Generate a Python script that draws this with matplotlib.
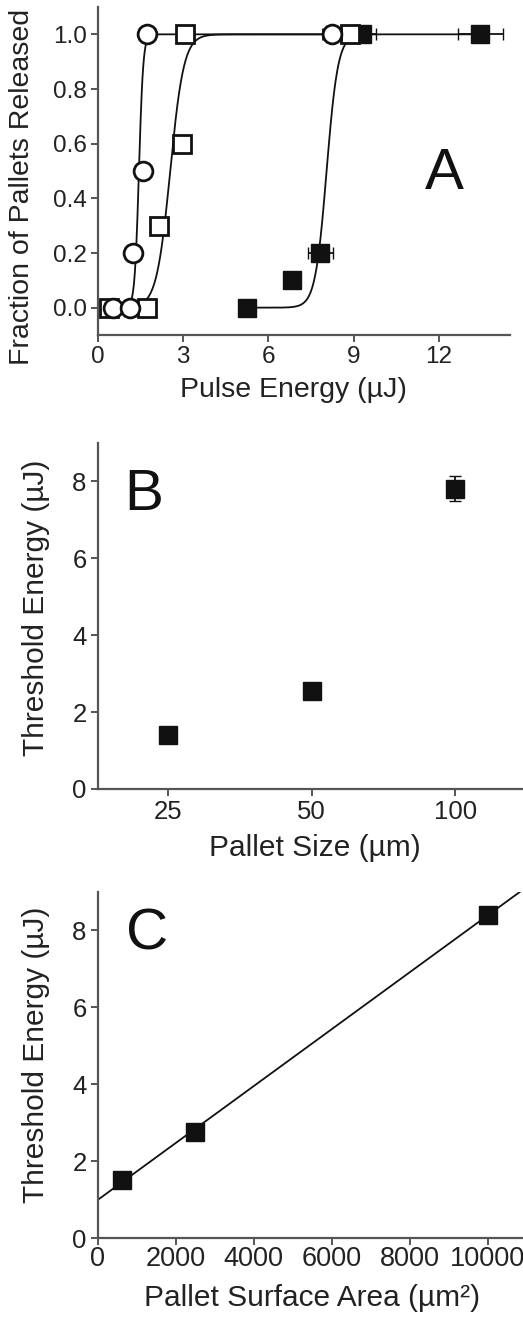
#레이저 펄스 에너지와 팔레트 방출 그래프 (A, B, C)
import numpy as np
import matplotlib
matplotlib.use("Agg")
import matplotlib.pyplot as plt

plt.rcParams['font.family'] = ['Liberation Sans', 'DejaVu Sans']

# A: 펄스 에너지 vs 방출 비율
circ_x = [0.55, 1.14, 1.25, 1.6, 1.74, 8.24]
circ_y = [0.0, 0.0, 0.2, 0.5, 1.0, 1.0]
circ_xerr = [0, 0, 0, 0, 0, 0.32]
osq_x = [0.4, 1.72, 2.17, 2.97, 3.07, 8.88]
osq_y = [0.0, 0.0, 0.3, 0.6, 1.0, 1.0]
fsq_x = [5.25, 6.85, 7.83, 9.3, 13.46]
fsq_y = [0.0, 0.1, 0.2, 1.0, 1.0]
fsq_xerr = [0, 0, 0.45, 0.5, 0.8]
# 시그모이드 피팅 파라미터 (중심, 폭)
circ_fit = (1.45, 0.075)
osq_fit = (2.55, 0.24)
fsq_fit = (8.05, 0.2)

# B: 팔레트 크기 vs 임계 에너지
size_labels = ["25", "50", "100"]
size_thr = [1.40, 2.55, 7.81]
size_err = [0.08, 0.1, 0.33]

# C: 표면적 vs 임계 에너지
area = [625, 2500, 10000]
area_thr = [1.51, 2.77, 8.41]

ink = "#111111"
txt = "#222222"
spine_c = "#555555"

def style(ax, tfs):
    for s in ["top", "right"]:
        ax.spines[s].set_visible(False)
    for s in ["left", "bottom"]:
        ax.spines[s].set_color(spine_c)
        ax.spines[s].set_linewidth(1.6)
    ax.tick_params(direction="out", length=5, width=1.4, color=spine_c,
                   labelsize=tfs, labelcolor=txt, pad=3)

def sig(x, p):
    return 1.0 / (1.0 + np.exp(-(x - p[0]) / p[1]))

fig = plt.figure(figsize=(5.23, 13.23), dpi=100)
W, H = 523.0, 1323.0

# ---- A ----
axA = fig.add_axes([97.7/W, 1-335/H, (510-97.7)/W, (335-7)/H])
style(axA, 17.5)
for xs, p in [(circ_x, circ_fit), (osq_x, osq_fit), (fsq_x, fsq_fit)]:
    xx = np.linspace(min(xs), max(xs), 600)
    axA.plot(xx, sig(xx, p), color=ink, lw=1.3, zorder=1)
axA.errorbar(fsq_x, fsq_y, xerr=fsq_xerr, fmt="s", color=ink, ms=12.5,
             mfc=ink, mec=ink, ecolor=ink, elinewidth=1.3, capsize=4, zorder=3)
axA.errorbar(osq_x, osq_y, fmt="s", ms=12.5, mfc="white", mec=ink, mew=2,
             ecolor=ink, zorder=4)
axA.errorbar(circ_x, circ_y, xerr=circ_xerr, fmt="o", ms=13.5, mfc="white",
             mec=ink, mew=2, ecolor=ink, elinewidth=1.3, capsize=4, zorder=5)
axA.set_xlim(0, 14.5)
axA.set_ylim(-0.1, 1.1)
axA.set_xticks([0, 3, 6, 9, 12])
axA.set_yticks([0.0, 0.2, 0.4, 0.6, 0.8, 1.0])
axA.set_yticklabels(["0.0", "0.2", "0.4", "0.6", "0.8", "1.0"])
axA.set_xlabel("Pulse Energy (µJ)", fontsize=20.5, color=txt)
axA.set_ylabel("Fraction of Pallets Released", fontsize=20.5, color=txt)
axA.xaxis.set_label_coords(0.475, -0.128)
axA.yaxis.set_label_coords(-0.152, 0.45)
axA.text(12.2, 0.49, "A", fontsize=42, ha="center", va="center", color=ink)

# ---- B ----
axB = fig.add_axes([97.7/W, 1-789/H, (523-97.7)/W, (789-443)/H])
style(axB, 18.5)
pos = np.arange(len(size_labels))
axB.errorbar(pos, size_thr, yerr=size_err, fmt="s", ms=12.5, color=ink,
             mfc=ink, mec=ink, ecolor=ink, elinewidth=1.3, capsize=4)
axB.set_xlim(-0.49, 2.47)
axB.set_ylim(0, 9)
axB.set_xticks(pos)
axB.set_xticklabels(size_labels)
axB.set_yticks([0, 2, 4, 6, 8])
axB.set_xlabel("Pallet Size (µm)", fontsize=21.5, color=txt)
axB.set_ylabel("Threshold Energy (µJ)", fontsize=21.5, color=txt)
axB.xaxis.set_label_coords(0.511, -0.13)
axB.yaxis.set_label_coords(-0.112, 0.525)
axB.text(-0.17, 7.64, "B", fontsize=42, ha="center", va="center", color=ink)

# ---- C ----
axC = fig.add_axes([97.7/W, 1-1238/H, (523-97.7)/W, (1238-892)/H])
style(axC, 18.5)
axC.tick_params(axis="x", pad=1, labelsize=19.5)
k, b = np.polyfit(area, area_thr, 1)
xx = np.array([0, 11000])
axC.plot(xx, k*xx + b, color=ink, lw=1.3, zorder=1)
axC.plot(area, area_thr, "s", ms=12.5, color=ink, zorder=3)
axC.set_xlim(0, 10900)
axC.set_ylim(0, 9)
axC.set_xticks([0, 2000, 4000, 6000, 8000, 10000])
axC.set_yticks([0, 2, 4, 6, 8])
axC.set_xlabel("Pallet Surface Area (µm²)", fontsize=21.5, color=txt)
axC.set_ylabel("Threshold Energy (µJ)", fontsize=21.5, color=txt)
axC.xaxis.set_label_coords(0.505, -0.132)
axC.yaxis.set_label_coords(-0.112, 0.529)
axC.text(1256, 7.9, "C", fontsize=42, ha="center", va="center", color=ink)

fig.savefig("out.png", dpi=100)
